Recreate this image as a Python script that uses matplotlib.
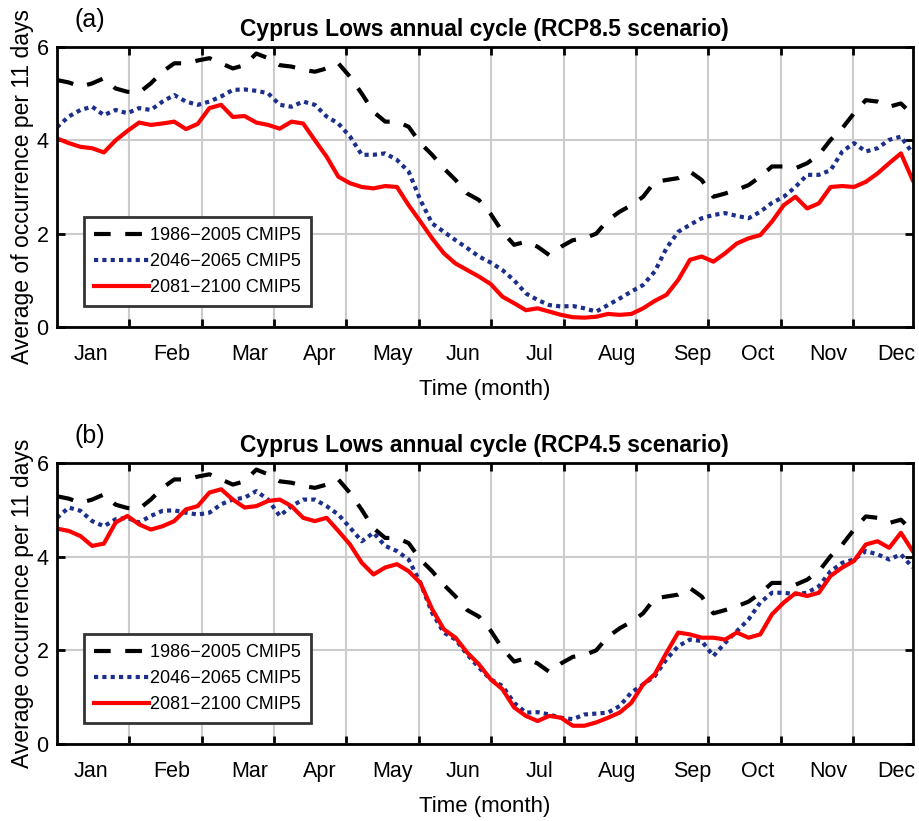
import numpy as np
import matplotlib
matplotlib.use("Agg")
import matplotlib.pyplot as plt

plt.rcParams["font.family"] = ["Liberation Sans", "DejaVu Sans"]

# day of year, sampled every 5 days
days = np.arange(0, 366, 5)

# 1986-2005 CMIP5 (same historical curve in both panels)
hist = [5.29, 5.24, 5.15, 5.22, 5.33, 5.11, 5.04, 5.02, 5.22, 5.47,
        5.65, 5.65, 5.71, 5.76, 5.65, 5.54, 5.61, 5.86, 5.76, 5.61,
        5.58, 5.51, 5.47, 5.54, 5.65, 5.36, 5.00, 4.61, 4.40, 4.40,
        4.29, 3.94, 3.69, 3.40, 3.15, 2.86, 2.72, 2.42, 2.04, 1.76,
        1.83, 1.72, 1.54, 1.72, 1.86, 1.90, 2.00, 2.29, 2.47, 2.61,
        2.79, 3.11, 3.15, 3.19, 3.33, 3.15, 2.79, 2.86, 2.94, 3.04,
        3.22, 3.44, 3.44, 3.40, 3.51, 3.69, 4.01, 4.26, 4.58, 4.86,
        4.83, 4.72, 4.79, 4.54]

# RCP8.5
mid85 = [4.28, 4.51, 4.65, 4.72, 4.54, 4.65, 4.58, 4.69, 4.65, 4.83,
         4.97, 4.83, 4.76, 4.83, 4.94, 5.08, 5.09, 5.06, 5.01, 4.76,
         4.72, 4.83, 4.76, 4.51, 4.36, 4.08, 3.69, 3.69, 3.72, 3.58,
         3.33, 2.72, 2.22, 2.04, 1.86, 1.69, 1.51, 1.38, 1.22, 1.00,
         0.72, 0.58, 0.47, 0.44, 0.45, 0.40, 0.33, 0.47, 0.61, 0.76,
         0.90, 1.19, 1.69, 2.04, 2.19, 2.33, 2.40, 2.44, 2.38, 2.33,
         2.47, 2.66, 2.79, 3.00, 3.26, 3.26, 3.36, 3.76, 3.94, 3.76,
         3.83, 4.01, 4.08, 3.72]
end85 = [4.04, 3.94, 3.86, 3.83, 3.74, 4.00, 4.20, 4.38, 4.33, 4.36,
         4.40, 4.24, 4.35, 4.69, 4.76, 4.50, 4.52, 4.38, 4.33, 4.25,
         4.40, 4.36, 4.00, 3.65, 3.22, 3.08, 3.00, 2.97, 3.02, 3.00,
         2.61, 2.26, 1.90, 1.58, 1.36, 1.22, 1.08, 0.92, 0.65, 0.51,
         0.36, 0.40, 0.33, 0.26, 0.21, 0.20, 0.22, 0.28, 0.26, 0.28,
         0.40, 0.56, 0.69, 1.01, 1.44, 1.51, 1.40, 1.58, 1.79, 1.90,
         1.97, 2.26, 2.61, 2.79, 2.54, 2.65, 3.00, 3.02, 3.00, 3.11,
         3.29, 3.51, 3.72, 3.15]

# RCP4.5
mid45 = [4.83, 5.05, 4.98, 4.76, 4.65, 4.80, 4.83, 4.73, 4.87, 4.98,
         4.99, 4.94, 4.90, 4.94, 5.12, 5.22, 5.26, 5.40, 5.22, 4.87,
         5.08, 5.22, 5.22, 5.08, 4.90, 4.62, 4.33, 4.51, 4.23, 4.12,
         3.94, 3.44, 2.80, 2.38, 2.23, 1.91, 1.63, 1.38, 1.24, 0.88,
         0.67, 0.68, 0.63, 0.56, 0.53, 0.63, 0.65, 0.67, 0.81, 1.10,
         1.27, 1.45, 1.81, 2.09, 2.23, 2.20, 1.88, 2.16, 2.41, 2.66,
         3.02, 3.23, 3.23, 3.20, 3.23, 3.37, 3.69, 3.87, 3.94, 4.12,
         4.05, 3.94, 4.05, 3.77]
end45 = [4.60, 4.55, 4.44, 4.23, 4.28, 4.73, 4.87, 4.69, 4.58, 4.65,
         4.76, 5.01, 5.08, 5.37, 5.44, 5.22, 5.05, 5.08, 5.19, 5.22,
         5.08, 4.83, 4.76, 4.83, 4.55, 4.26, 3.87, 3.62, 3.77, 3.84,
         3.69, 3.44, 2.88, 2.45, 2.27, 1.95, 1.70, 1.38, 1.17, 0.78,
         0.60, 0.49, 0.60, 0.56, 0.39, 0.39, 0.46, 0.56, 0.67, 0.88,
         1.27, 1.49, 1.95, 2.38, 2.34, 2.27, 2.27, 2.23, 2.38, 2.27,
         2.34, 2.77, 3.02, 3.22, 3.16, 3.23, 3.59, 3.77, 3.91, 4.26,
         4.33, 4.19, 4.51, 4.12]

months = ["Jan", "Feb", "Mar", "Apr", "May", "Jun",
          "Jul", "Aug", "Sep", "Oct", "Nov", "Dec"]
month_pos = [14.5, 49, 82, 112, 143, 173, 206, 239, 271, 299, 329, 358]

labels = ["1986\u22122005 CMIP5", "2046\u22122065 CMIP5", "2081\u22122100 CMIP5"]

panels = [
    ("(a)", "Cyprus Lows annual cycle (RCP8.5 scenario)",
     "Average of occurrence per 11 days", mid85, end85),
    ("(b)", "Cyprus Lows annual cycle (RCP4.5 scenario)",
     "Average occurrence per 11 days", mid45, end45),
]

fig = plt.figure(figsize=(9.2, 8.21), dpi=100)
rects = [[0.062, 0.6017, 0.930, 0.3411], [0.062, 0.0938, 0.930, 0.3422]]

for rect, (tag, title, ylabel, mid, end) in zip(rects, panels):
    ax = fig.add_axes(rect)
    ax.plot(days, hist, color="black", lw=3, dashes=(4, 3.5), label=labels[0])
    ax.plot(days, mid, color="#1c2f8a", lw=3, dashes=(1, 1), label=labels[1])
    ax.plot(days, end, color="#ff0000", lw=3, label=labels[2])

    ax.set_xlim(0, 365)
    ax.set_ylim(0, 6)
    ax.set_yticks([0, 2, 4, 6])
    ax.set_xticks(np.arange(1, 12) * 30.87)
    ax.set_xticklabels([])
    ax.set_xticks(month_pos, minor=True)
    ax.set_xticklabels(months, minor=True)
    ax.tick_params(axis="x", which="minor", length=0, pad=12, labelsize=15.5)
    ax.tick_params(which="major", direction="in", length=6, width=2,
                   top=True, right=True, labelsize=15.5, pad=6)
    ax.grid(True, which="major", color="#cccccc", lw=1.5)
    for s in ax.spines.values():
        s.set_linewidth(2)

    ax.set_title(title, fontsize=16.5, fontweight="bold", pad=8)
    ax.text(0.02, 1.095, tag, transform=ax.transAxes, fontsize=18,
            ha="left", va="center")
    ax.set_xlabel("Time (month)", fontsize=16, labelpad=10)
    ax.set_ylabel(ylabel, fontsize=16.5, labelpad=2)

    leg = ax.legend(loc="lower left", bbox_to_anchor=(0.032, 0.075),
                    fontsize=13, handlelength=3.0, frameon=True,
                    fancybox=False, framealpha=1, borderpad=0.55,
                    handletextpad=0.1, labelspacing=0.5, borderaxespad=0)
    leg.get_frame().set_edgecolor("#333333")
    leg.get_frame().set_linewidth(2)

fig.savefig("out.png", dpi=100)
